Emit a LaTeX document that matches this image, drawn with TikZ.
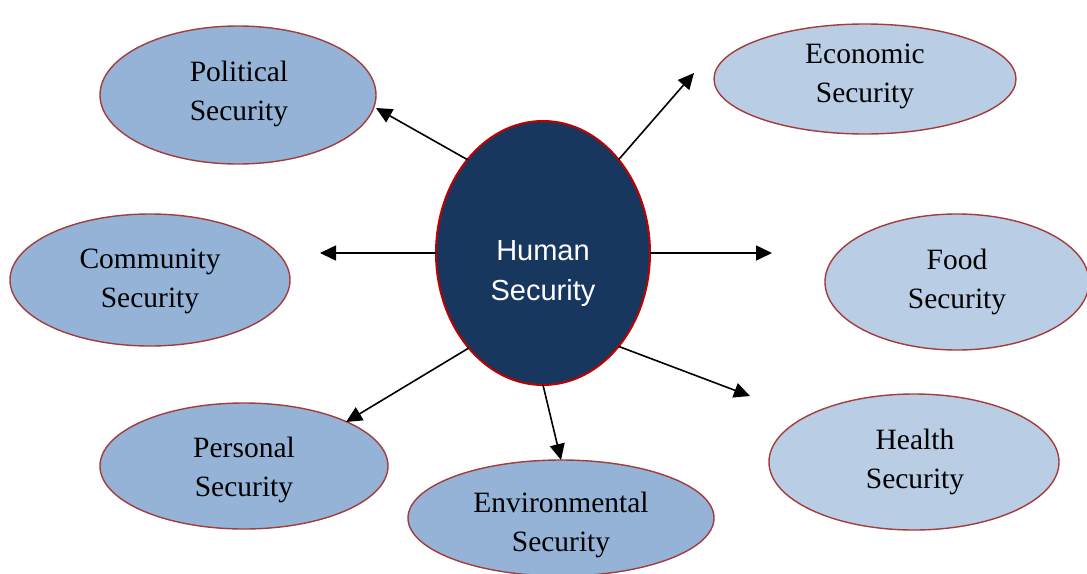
\documentclass[tikz,border=0pt]{standalone}
\usepackage{fontspec}
\setmainfont{Liberation Serif}
\newfontfamily\hubfont{Liberation Sans}
\usetikzlibrary{shapes.geometric,arrows.meta}

\definecolor{bluemid}{HTML}{95B3D7}
\definecolor{bluelight}{HTML}{B9CDE5}
\definecolor{rimred}{HTML}{A33C3A}
\definecolor{hubnavy}{HTML}{17375E}
\definecolor{hubrim}{HTML}{C00000}

\tikzset{
  area/.style={ellipse, draw=rimred, line width=1.4pt, inner sep=0pt, outer sep=0pt},
  areamid/.style={area, fill=bluemid},
  arealight/.style={area, fill=bluelight},
  areatext/.style={align=center, inner sep=0pt, font=\fontsize{29.5}{39}\selectfont},
  hub/.style={ellipse, draw=hubrim, line width=2pt, fill=hubnavy, inner sep=0pt,
    outer sep=0pt, minimum width=214pt, minimum height=264pt},
  hubtext/.style={align=center, inner sep=0pt, text=white,
    font=\hubfont\fontsize{29}{40}\selectfont},
  link/.style={line width=1.6pt, -{Triangle[length=16pt,width=15pt]}}
}

\begin{document}
\begin{tikzpicture}[x=1pt, y=-1pt]
  \useasboundingbox (0,0) rectangle (1087,573);
  \clip (0,0) rectangle (1087,573);
  \fill[white] (0,0) rectangle (1087,573);

  % surrounding areas
  \node[areamid, minimum width=276pt, minimum height=138pt] (pol) at (238,95) {};
  \node[arealight, minimum width=302pt, minimum height=110pt] (eco) at (865,79) {};
  \node[areamid, minimum width=280pt, minimum height=132pt] (com) at (150,280) {};
  \node[arealight, minimum width=264pt, minimum height=136pt] (food) at (957,282) {};
  \node[areamid, minimum width=288pt, minimum height=126pt] (per) at (244,466) {};
  \node[areamid, minimum width=306pt, minimum height=116pt] (env) at (561,518) {};
  \node[arealight, minimum width=290pt, minimum height=136pt] (hea) at (914,462) {};

  \node[areatext] (pol-t) at (239,94) {Political\\Security};
  \node[areatext] (eco-t) at (865,76) {Economic\\Security};
  \node[areatext] (com-t) at (150,281) {Community\\Security};
  \node[areatext] (food-t) at (957,282) {Food\\Security};
  \node[areatext] (per-t) at (244,470) {Personal\\Security};
  \node[areatext] (env-t) at (561,525) {Environmental\\Security};
  \node[areatext] (hea-t) at (915,462) {Health\\Security};

  % central idea
  \node[hub] (hs) at (543,253) {};
  \node[hubtext] (hs-t) at (543,274) {Human\\Security};

  % arrow tips stop short of each area
  \coordinate (pol-in) at (376,108);
  \coordinate (eco-in) at (694,73);
  \coordinate (com-in) at (320,253);
  \coordinate (food-in) at (772,253);
  \coordinate (per-in) at (346,422);
  \coordinate (env-in) at (561,460);
  \coordinate (hea-in) at (750,396);

  \draw[link] (hs.129) -- (pol-in);
  \draw[link] (hs.51) -- (eco-in);
  \draw[link] (hs.180) -- (com-in);
  \draw[link] (hs.0) -- (food-in);
  \draw[link] (hs.232) -- (per-in);
  \draw[link] (hs.270) -- (env-in);
  \draw[link] (hs.309) -- (hea-in);
\end{tikzpicture}
\end{document}
